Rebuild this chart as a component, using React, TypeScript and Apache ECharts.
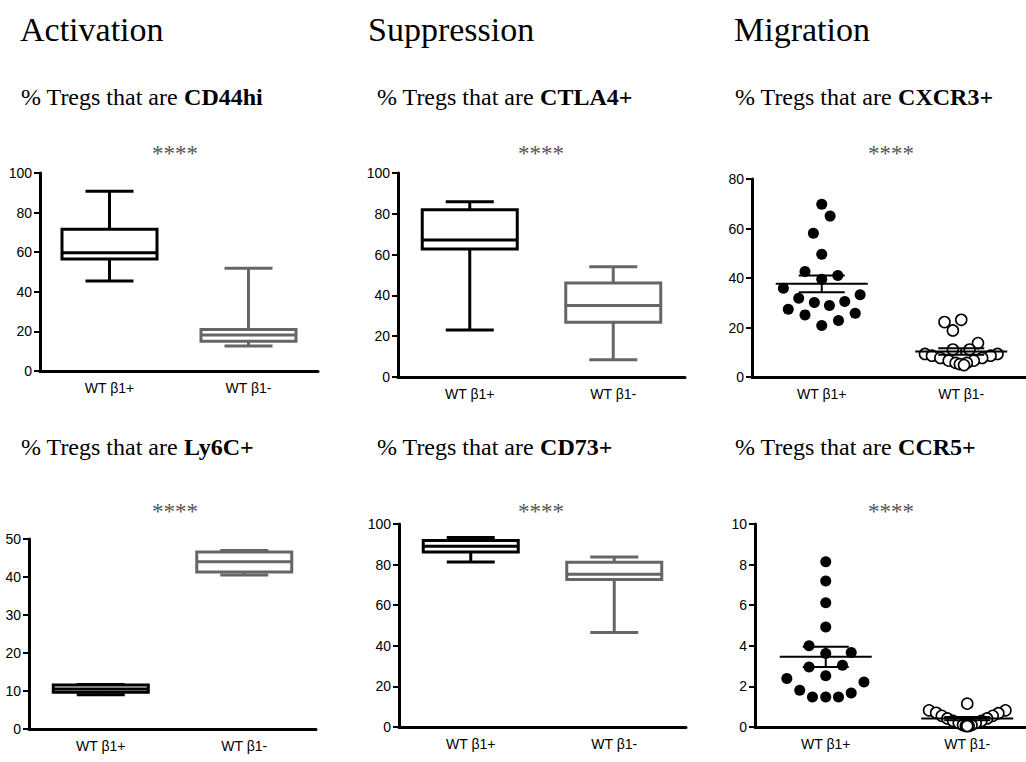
import React, { useEffect, useRef } from "react";
import * as echarts from "echarts";

const SERIF = '"Liberation Serif", "Times New Roman", serif';
const SANS = '"Liberation Sans", Arial, sans-serif';

const groups = ["WT β1+", "WT β1-"];
const headings = ["Activation", "Suppression", "Migration"];
const markers = ["CD44hi", "CTLA4+", "CXCR3+", "Ly6C+", "CD73+", "CCR5+"];
const stars = "****";

// box stats per group: [min, Q1, median, Q3, max]
const cd44hiBox = [
  [45.5, 56.6, 59.7, 71.6, 90.8],
  [12.6, 15.0, 18.2, 21.0, 51.9],
];
const ctla4Box = [
  [23.0, 62.7, 67.2, 82.0, 85.9],
  [8.5, 26.8, 35.0, 46.1, 54.1],
];
const ly6cBox = [
  [9.0, 9.7, 10.5, 11.6, 11.7],
  [40.5, 41.3, 44.0, 46.6, 47.0],
];
const cd73Box = [
  [81.3, 86.2, 89.0, 91.9, 93.4],
  [46.6, 72.6, 75.2, 81.1, 83.7],
];

// individual values (dot plots) with their horizontal swarm offsets (in category units)
const cxcr3Pos = [69.8, 65.0, 58.1, 49.6, 42.6, 41.0, 39.5, 35.9, 33.2, 31.8, 30.1, 28.9, 30.5, 27.4, 25.1, 25.8, 22.8, 20.8];
const cxcr3PosOffset = [0, 0.06, -0.06, 0, -0.12, 0.115, 0, -0.275, 0.275, -0.165, -0.053, 0.055, 0.165, -0.24, -0.12, 0.24, 0.12, 0];
const cxcr3Neg = [22.2, 23.1, 18.8, 13.7, 11.1, 11.1, 9.3, 9.3, 8.6, 8.6, 7.7, 7.7, 6.6, 6.6, 5.7, 5.7, 5.2, 4.8];
const cxcr3NegOffset = [-0.12, 0, -0.06, 0.12, -0.06, 0.06, -0.26, 0.26, -0.21, 0.21, -0.15, 0.15, -0.09, 0.09, -0.04, 0.04, -0.01, 0.02];

const ccr5Pos = [8.14, 7.19, 6.12, 4.93, 4.0, 3.67, 3.62, 2.96, 3.04, 2.52, 2.39, 2.22, 1.81, 1.48, 1.48, 1.48, 1.68];
const ccr5PosOffset = [0, 0, 0, 0, -0.118, 0.18, 0, -0.118, 0.118, 0, -0.275, 0.27, -0.184, -0.094, 0, 0.09, 0.18];
const ccr5Neg = [1.15, 0.82, 0.82, 0.7, 0.68, 0.55, 0.55, 0.42, 0.42, 0.3, 0.3, 0.2, 0.2, 0.1, 0.1, 0.05, 0.05, 0.05];
const ccr5NegOffset = [0, -0.27, 0.27, -0.22, 0.22, -0.18, 0.18, -0.14, 0.14, -0.1, 0.1, -0.06, 0.06, -0.03, 0.03, -0.01, 0.01, 0];

type Panel = {
  kind: "box" | "dot";
  max: number;
  interval: number;
  box?: number[][];
  pos?: number[];
  posOff?: number[];
  neg?: number[];
  negOff?: number[];
};

const panels: Panel[] = [
  { kind: "box", max: 100, interval: 20, box: cd44hiBox },
  { kind: "box", max: 100, interval: 20, box: ctla4Box },
  { kind: "dot", max: 80, interval: 20, pos: cxcr3Pos, posOff: cxcr3PosOffset, neg: cxcr3Neg, negOff: cxcr3NegOffset },
  { kind: "box", max: 50, interval: 10, box: ly6cBox },
  { kind: "box", max: 100, interval: 20, box: cd73Box },
  { kind: "dot", max: 10, interval: 2, pos: ccr5Pos, posOff: ccr5PosOffset, neg: ccr5Neg, negOff: ccr5NegOffset },
];

// layout (pixels)
const gridRects = [
  { left: 40, top: 173, width: 278, height: 198 },
  { left: 398, top: 173, width: 287, height: 204 },
  { left: 752, top: 179, width: 279, height: 198 },
  { left: 29, top: 539, width: 287, height: 190 },
  { left: 399, top: 524, width: 287, height: 203 },
  { left: 755, top: 524, width: 283, height: 203 },
];
const headingLeft = [20, 368, 734];
const subLeft = [21, 377, 735, 21, 377, 735];
const subTop = [83, 83, 83, 433, 433, 433];
const starCenter = [175, 541, 891, 175, 541, 891];
const starTop = [141, 141, 141, 499, 499, 499];

function meanSem(arr: number[]) {
  const n = arr.length;
  const m = arr.reduce((a, b) => a + b, 0) / n;
  const v = arr.reduce((a, b) => a + (b - m) * (b - m), 0) / (n - 1);
  return [m, Math.sqrt(v) / Math.sqrt(n)];
}

function boxRender(params: any, api: any) {
  const cat = api.value(0);
  const mn = api.value(1), q1 = api.value(2), md = api.value(3), q3 = api.value(4), mx = api.value(5);
  const c = cat === 0 ? "#000" : "#666";
  const p = api.coord([cat, mn]);
  const x = p[0];
  const yMin = p[1];
  const yQ1 = api.coord([cat, q1])[1];
  const yMd = api.coord([cat, md])[1];
  const yQ3 = api.coord([cat, q3])[1];
  const yMax = api.coord([cat, mx])[1];
  const half = 47.5;
  const cap = 24;
  const ls = { stroke: c, lineWidth: 3 };
  return {
    type: "group",
    children: [
      { type: "line", shape: { x1: x, y1: yMax, x2: x, y2: yQ3 }, style: ls },
      { type: "line", shape: { x1: x, y1: yQ1, x2: x, y2: yMin }, style: ls },
      { type: "line", shape: { x1: x - cap, y1: yMax, x2: x + cap, y2: yMax }, style: ls },
      { type: "line", shape: { x1: x - cap, y1: yMin, x2: x + cap, y2: yMin }, style: ls },
      { type: "rect", shape: { x: x - half, y: yQ3, width: 2 * half, height: yQ1 - yQ3 }, style: { fill: "#fff", stroke: c, lineWidth: 3 } },
      { type: "line", shape: { x1: x - half, y1: yMd, x2: x + half, y2: yMd }, style: ls },
    ],
  };
}

function meanRender(params: any, api: any) {
  const cx = api.value(0);
  const m = api.value(1);
  const s = api.value(2);
  const pm = api.coord([cx, m]);
  const yHi = api.coord([cx, m + s])[1];
  const yLo = api.coord([cx, m - s])[1];
  const x = pm[0];
  const ls = { stroke: "#000", lineWidth: 2 };
  return {
    type: "group",
    children: [
      { type: "line", shape: { x1: x - 46, y1: pm[1], x2: x + 46, y2: pm[1] }, style: ls },
      { type: "line", shape: { x1: x, y1: yHi, x2: x, y2: yLo }, style: ls },
      { type: "line", shape: { x1: x - 23, y1: yHi, x2: x + 23, y2: yHi }, style: ls },
      { type: "line", shape: { x1: x - 23, y1: yLo, x2: x + 23, y2: yLo }, style: ls },
    ],
  };
}

function buildOption() {
  const option: any = {
    animation: false,
    backgroundColor: "#fff",
    title: [],
    grid: [],
    xAxis: [],
    yAxis: [],
    series: [],
  };

  headings.forEach((h, i) => {
    option.title.push({
      text: h,
      left: headingLeft[i],
      top: 10,
      padding: 0,
      textStyle: { fontFamily: SERIF, fontSize: 34, fontWeight: "normal", color: "#000", lineHeight: 38 },
    });
  });
  markers.forEach((m, i) => {
    option.title.push({
      text: "% Tregs that are {b|" + m + "}",
      left: subLeft[i],
      top: subTop[i],
      padding: 0,
      textStyle: {
        fontFamily: SERIF,
        fontSize: 24,
        fontWeight: "normal",
        color: "#000",
        lineHeight: 27,
        rich: { b: { fontFamily: SERIF, fontSize: 24, fontWeight: "bold", color: "#000", lineHeight: 27 } },
      },
    });
    option.title.push({
      text: stars,
      left: starCenter[i] - 23,
      top: starTop[i],
      padding: 0,
      textStyle: { fontFamily: SERIF, fontSize: 23, fontWeight: "normal", color: "#555", lineHeight: 24 },
    });
  });

  panels.forEach((p, i) => {
    option.grid.push({ ...gridRects[i], containLabel: false });
    const catIdx = option.xAxis.length;
    option.xAxis.push({
      type: "category",
      gridIndex: i,
      data: groups,
      boundaryGap: true,
      axisLine: { onZero: false, lineStyle: { color: "#000", width: 3 } },
      axisTick: { alignWithLabel: true, length: 6, lineStyle: { color: "#000", width: 2 } },
      axisLabel: { color: "#000", fontFamily: SANS, fontSize: 14, margin: 10 },
      splitLine: { show: false },
    });
    let valIdx = -1;
    if (p.kind === "dot") {
      valIdx = option.xAxis.length;
      option.xAxis.push({ type: "value", gridIndex: i, min: -0.5, max: 1.5, show: false });
    }
    option.yAxis.push({
      type: "value",
      gridIndex: i,
      min: 0,
      max: p.max,
      interval: p.interval,
      axisLine: { show: true, onZero: false, lineStyle: { color: "#000", width: 3 } },
      axisTick: { show: true, length: 6, lineStyle: { color: "#000", width: 2 } },
      axisLabel: { color: "#000", fontFamily: SANS, fontSize: 14, margin: 8 },
      splitLine: { show: false },
    });

    if (p.kind === "box") {
      option.series.push({
        type: "custom",
        xAxisIndex: catIdx,
        yAxisIndex: i,
        renderItem: boxRender,
        encode: { x: 0, y: [1, 2, 3, 4, 5] },
        data: (p.box as number[][]).map((b, k) => [k, ...b]),
        z: 3,
      });
    } else {
      const pos = p.pos as number[];
      const neg = p.neg as number[];
      option.series.push({
        type: "scatter",
        xAxisIndex: valIdx,
        yAxisIndex: i,
        symbol: "circle",
        symbolSize: 11,
        itemStyle: { color: "#000", opacity: 1 },
        data: pos.map((v, k) => [0 + (p.posOff as number[])[k], v]),
        z: 2,
      });
      option.series.push({
        type: "scatter",
        xAxisIndex: valIdx,
        yAxisIndex: i,
        symbol: "circle",
        symbolSize: 11,
        itemStyle: { color: "#fff", borderColor: "#000", borderWidth: 1.6, opacity: 1 },
        data: neg.map((v, k) => [1 + (p.negOff as number[])[k], v]),
        z: 2,
      });
      const a = meanSem(pos);
      const b = meanSem(neg);
      option.series.push({
        type: "custom",
        xAxisIndex: valIdx,
        yAxisIndex: i,
        renderItem: meanRender,
        encode: { x: 0, y: 1 },
        data: [
          [0, a[0], a[1]],
          [1, b[0], b[1]],
        ],
        z: 4,
      });
    }
  });
  return option;
}

export default function App() {
  const ref = useRef<HTMLDivElement>(null);
  useEffect(() => {
    if (!ref.current) return;
    const chart = echarts.init(ref.current, null, { renderer: "svg" });
    chart.setOption(buildOption());
    return () => chart.dispose();
  }, []);
  return (
    <div
      style={{ position: "absolute", left: 0, top: 0, width: 1026, height: 762, overflow: "hidden", background: "#fff" }}
    >
      <div ref={ref} style={{ position: "absolute", left: 0, top: 0, width: 1044, height: 762 }} />
    </div>
  );
}
